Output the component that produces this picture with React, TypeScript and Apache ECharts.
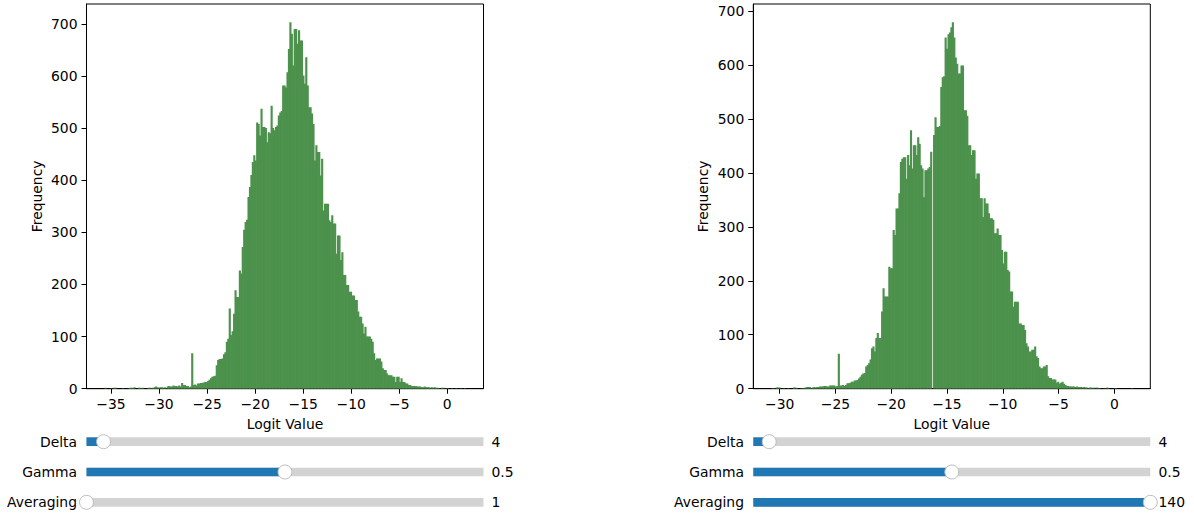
import React, { useEffect, useRef } from "react";
import * as echarts from "echarts";

// ---------- data ----------
const leftRange = [-35.67, 1.89];
const rightRange = [-30.75, 1.61];

const leftCounts = [
  2, 0, 0, 0, 1, 0, 2, 2, 0, 0,
  0, 0, 1, 0, 0, 0, 1, 2, 2, 1,
  3, 0, 0, 2, 2, 1, 2, 0, 0, 1,
  2, 2, 1, 2, 3, 4, 3, 2, 3, 3,
  2, 3, 1, 4, 5, 4, 4, 6, 5, 5,
  4, 6, 4, 11, 7, 7, 5, 5, 3, 4,
  68, 7, 8, 6, 10, 10, 11, 11, 12, 13,
  13, 15, 17, 20, 23, 24, 25, 45, 55, 57,
  57, 58, 66, 70, 90, 96, 154, 103, 110, 144,
  189, 176, 176, 227, 221, 272, 305, 320, 324, 368,
  387, 410, 435, 448, 438, 511, 508, 486, 537, 502,
  502, 500, 473, 492, 490, 543, 500, 496, 502, 505,
  524, 530, 533, 582, 582, 578, 607, 652, 703, 681,
  620, 690, 690, 662, 688, 668, 668, 601, 585, 636,
  582, 540, 540, 528, 508, 438, 467, 454, 454, 409,
  441, 342, 355, 355, 355, 323, 320, 333, 317, 317,
  259, 294, 294, 247, 262, 218, 218, 199, 199, 186,
  186, 179, 179, 170, 170, 148, 138, 138, 125, 106,
  119, 100, 100, 100, 96, 90, 68, 55, 58, 58,
  58, 52, 39, 36, 36, 29, 26, 26, 26, 23,
  23, 13, 23, 23, 13, 20, 13, 13, 10, 10,
  7, 7, 5, 5, 5, 5, 4, 4, 4, 3,
  3, 4, 3, 3, 3, 2, 3, 2, 3, 2,
  2, 1, 0, 2, 2, 0, 1, 1, 0, 0,
  1, 0, 0, 1, 0, 0, 1, 0, 0, 1,
];

const rightCounts = [
  1, 1, 0, 2, 2, 2, 0, 0, 1, 0,
  0, 1, 0, 0, 0, 2, 2, 1, 0, 0,
  1, 1, 1, 2, 3, 3, 3, 1, 2, 3,
  2, 3, 3, 4, 4, 4, 5, 5, 4, 4,
  6, 6, 6, 6, 4, 5, 65, 6, 6, 7,
  5, 7, 10, 10, 11, 13, 13, 15, 15, 16,
  19, 22, 26, 28, 29, 41, 44, 47, 54, 75,
  78, 69, 94, 103, 94, 94, 143, 186, 171, 171,
  171, 226, 223, 223, 294, 285, 334, 334, 362, 420,
  426, 429, 429, 389, 433, 414, 479, 408, 451, 451,
  433, 466, 454, 414, 408, 355, 405, 405, 408, 411,
  439, 0, 470, 503, 485, 485, 487, 559, 577, 579,
  651, 630, 657, 660, 670, 679, 651, 614, 602, 584,
  584, 599, 599, 516, 516, 506, 451, 451, 433, 442,
  442, 389, 399, 399, 353, 353, 318, 353, 343, 343,
  325, 316, 316, 313, 288, 288, 297, 285, 285, 257,
  232, 254, 254, 220, 217, 180, 180, 152, 161, 161,
  161, 121, 121, 118, 118, 109, 84, 78, 69, 69,
  72, 72, 78, 60, 57, 41, 38, 38, 41, 41,
  44, 23, 20, 20, 17, 17, 17, 11, 13, 9,
  11, 13, 9, 7, 5, 5, 4, 4, 4, 4,
  3, 4, 3, 3, 3, 2, 3, 2, 2, 1,
  2, 2, 1, 2, 0, 2, 1, 1, 0, 0,
  1, 0, 2, 1, 0, 0, 0, 1, 1, 0,
  0, 0, 0, 0, 0, 0, 0, 0, 0, 1,
];

const yTicks = [0, 100, 200, 300, 400, 500, 600, 700];
const leftXTicks = [-35, -30, -25, -20, -15, -10, -5, 0];
const rightXTicks = [-30, -25, -20, -15, -10, -5, 0];

const sliderNames = ["Delta", "Gamma", "Averaging"];
const leftSliderValues = ["4", "0.5", "1"];
const rightSliderValues = ["4", "0.5", "140"];
const leftSliderFractions = [0.043, 0.5, 0];
const rightSliderFractions = [0.04, 0.5, 1];

const xAxisTitle = "Logit Value";
const yAxisTitle = "Frequency";

// ---------- styling ----------
const GREEN = "#4c914c";
const FONT = "DejaVu Sans";
const FS = 13.9;

function binData(counts: number[], range: number[]) {
  const w = (range[1] - range[0]) / counts.length;
  return counts.map((c, i) => [range[0] + i * w, range[0] + (i + 1) * w, c]);
}

function fmt(v: number) {
  return v < 0 ? "\u2212" + String(-v) : String(v);
}

function renderBar(params: any, api: any) {
  const c = api.value(2);
  if (!c) return null;
  const p0 = api.coord([api.value(0), c]);
  const p1 = api.coord([api.value(1), 0]);
  return {
    type: "rect",
    shape: { x: p0[0], y: p0[1], width: p1[0] - p0[0] + 0.7, height: p1[1] - p0[1] },
    style: { fill: GREEN },
  };
}

function xAxisFor(range: number[], ticks: number[], idx: number) {
  const w = range[1] - range[0];
  return {
    type: "value",
    gridIndex: idx,
    min: range[0] - 0.05 * w,
    max: range[1] + 0.05 * w,
    axisLine: { show: true, onZero: false, lineStyle: { color: "#000", width: 1 } },
    axisTick: { show: true, length: 5, customValues: ticks, lineStyle: { color: "#000", width: 1 } },
    axisLabel: {
      customValues: ticks,
      formatter: (v: number) => fmt(v),
      color: "#000",
      fontFamily: FONT,
      fontSize: FS,
      margin: 8,
    },
    splitLine: { show: false },
  };
}

function yAxisFor(counts: number[], idx: number) {
  return {
    type: "value",
    gridIndex: idx,
    min: 0,
    max: Math.max(...counts) * 1.05,
    axisLine: { show: true, onZero: false, lineStyle: { color: "#000", width: 1 } },
    axisTick: { show: true, length: 5, customValues: yTicks, lineStyle: { color: "#000", width: 1 } },
    axisLabel: {
      customValues: yTicks,
      color: "#000",
      fontFamily: FONT,
      fontSize: FS,
      margin: 9,
    },
    splitLine: { show: false },
  };
}

function sliderGraphics(
  trackLeft: number,
  trackWidth: number,
  labelX: number,
  valueX: number,
  values: string[],
  fractions: number[]
) {
  const rows = [441.7, 472, 502.3];
  const th = 8.7;
  const out: any[] = [];
  rows.forEach((cy, r) => {
    const f = fractions[r];
    out.push({
      type: "rect",
      shape: { x: trackLeft, y: cy - th / 2, width: trackWidth, height: th },
      style: { fill: "#d3d3d3" },
      z: 1,
    });
    if (f > 0) {
      out.push({
        type: "rect",
        shape: { x: trackLeft, y: cy - th / 2, width: f * trackWidth, height: th },
        style: { fill: "#1f77b4" },
        z: 2,
      });
    }
    out.push({
      type: "circle",
      shape: { cx: trackLeft + f * trackWidth, cy, r: 7 },
      style: { fill: "#fff", stroke: "#bdbdbd", lineWidth: 1 },
      z: 3,
    });
    out.push({
      type: "text",
      x: labelX,
      y: cy,
      style: {
        text: sliderNames[r],
        align: "right",
        verticalAlign: "middle",
        fill: "#000",
        fontFamily: FONT,
        fontSize: FS,
      },
      z: 4,
    });
    out.push({
      type: "text",
      x: valueX,
      y: cy,
      style: {
        text: values[r],
        align: "left",
        verticalAlign: "middle",
        fill: "#000",
        fontFamily: FONT,
        fontSize: FS,
      },
      z: 4,
    });
  });
  return out;
}

export default function App() {
  const ref = useRef<HTMLDivElement>(null);

  useEffect(() => {
    if (!ref.current) return;
    const chart = echarts.init(ref.current, null, { renderer: "svg" });

    const gridTop = 4;
    const gridH = 384.7;
    const gridW = 397;
    const leftL = 86.5;
    const rightL = 753.3;

    const textStyle = { fill: "#000", fontFamily: FONT, fontSize: FS };

    const option: any = {
      animation: false,
      grid: [
        { left: leftL, top: gridTop, width: gridW, height: gridH, show: true, borderColor: "#000", borderWidth: 1, backgroundColor: "transparent" },
        { left: rightL, top: gridTop, width: gridW, height: gridH, show: true, borderColor: "#000", borderWidth: 1, backgroundColor: "transparent" },
      ],
      xAxis: [xAxisFor(leftRange, leftXTicks, 0), xAxisFor(rightRange, rightXTicks, 1)],
      yAxis: [yAxisFor(leftCounts, 0), yAxisFor(rightCounts, 1)],
      series: [
        {
          type: "custom",
          xAxisIndex: 0,
          yAxisIndex: 0,
          data: binData(leftCounts, leftRange),
          encode: { x: [0, 1], y: 2 },
          renderItem: renderBar,
          silent: true,
          clip: true,
        },
        {
          type: "custom",
          xAxisIndex: 1,
          yAxisIndex: 1,
          data: binData(rightCounts, rightRange),
          encode: { x: [0, 1], y: 2 },
          renderItem: renderBar,
          silent: true,
          clip: true,
        },
      ],
      graphic: [
        { type: "text", x: leftL + gridW / 2, y: 424, style: { ...textStyle, text: xAxisTitle, align: "center", verticalAlign: "middle" } },
        { type: "text", x: rightL + gridW / 2, y: 424, style: { ...textStyle, text: xAxisTitle, align: "center", verticalAlign: "middle" } },
        { type: "text", x: 37, y: gridTop + gridH / 2, rotation: Math.PI / 2, style: { ...textStyle, text: yAxisTitle, align: "center", verticalAlign: "middle" } },
        { type: "text", x: 703, y: gridTop + gridH / 2, rotation: Math.PI / 2, style: { ...textStyle, text: yAxisTitle, align: "center", verticalAlign: "middle" } },
        ...sliderGraphics(leftL, gridW, 77, 491.5, leftSliderValues, leftSliderFractions),
        ...sliderGraphics(rightL, gridW, 744, 1158.5, rightSliderValues, rightSliderFractions),
      ],
    };

    chart.setOption(option);
    return () => chart.dispose();
  }, []);

  return (
    <div
      ref={ref}
      style={{ position: "absolute", left: 0, top: 0, width: 1194, height: 517, background: "#fff" }}
    />
  );
}
